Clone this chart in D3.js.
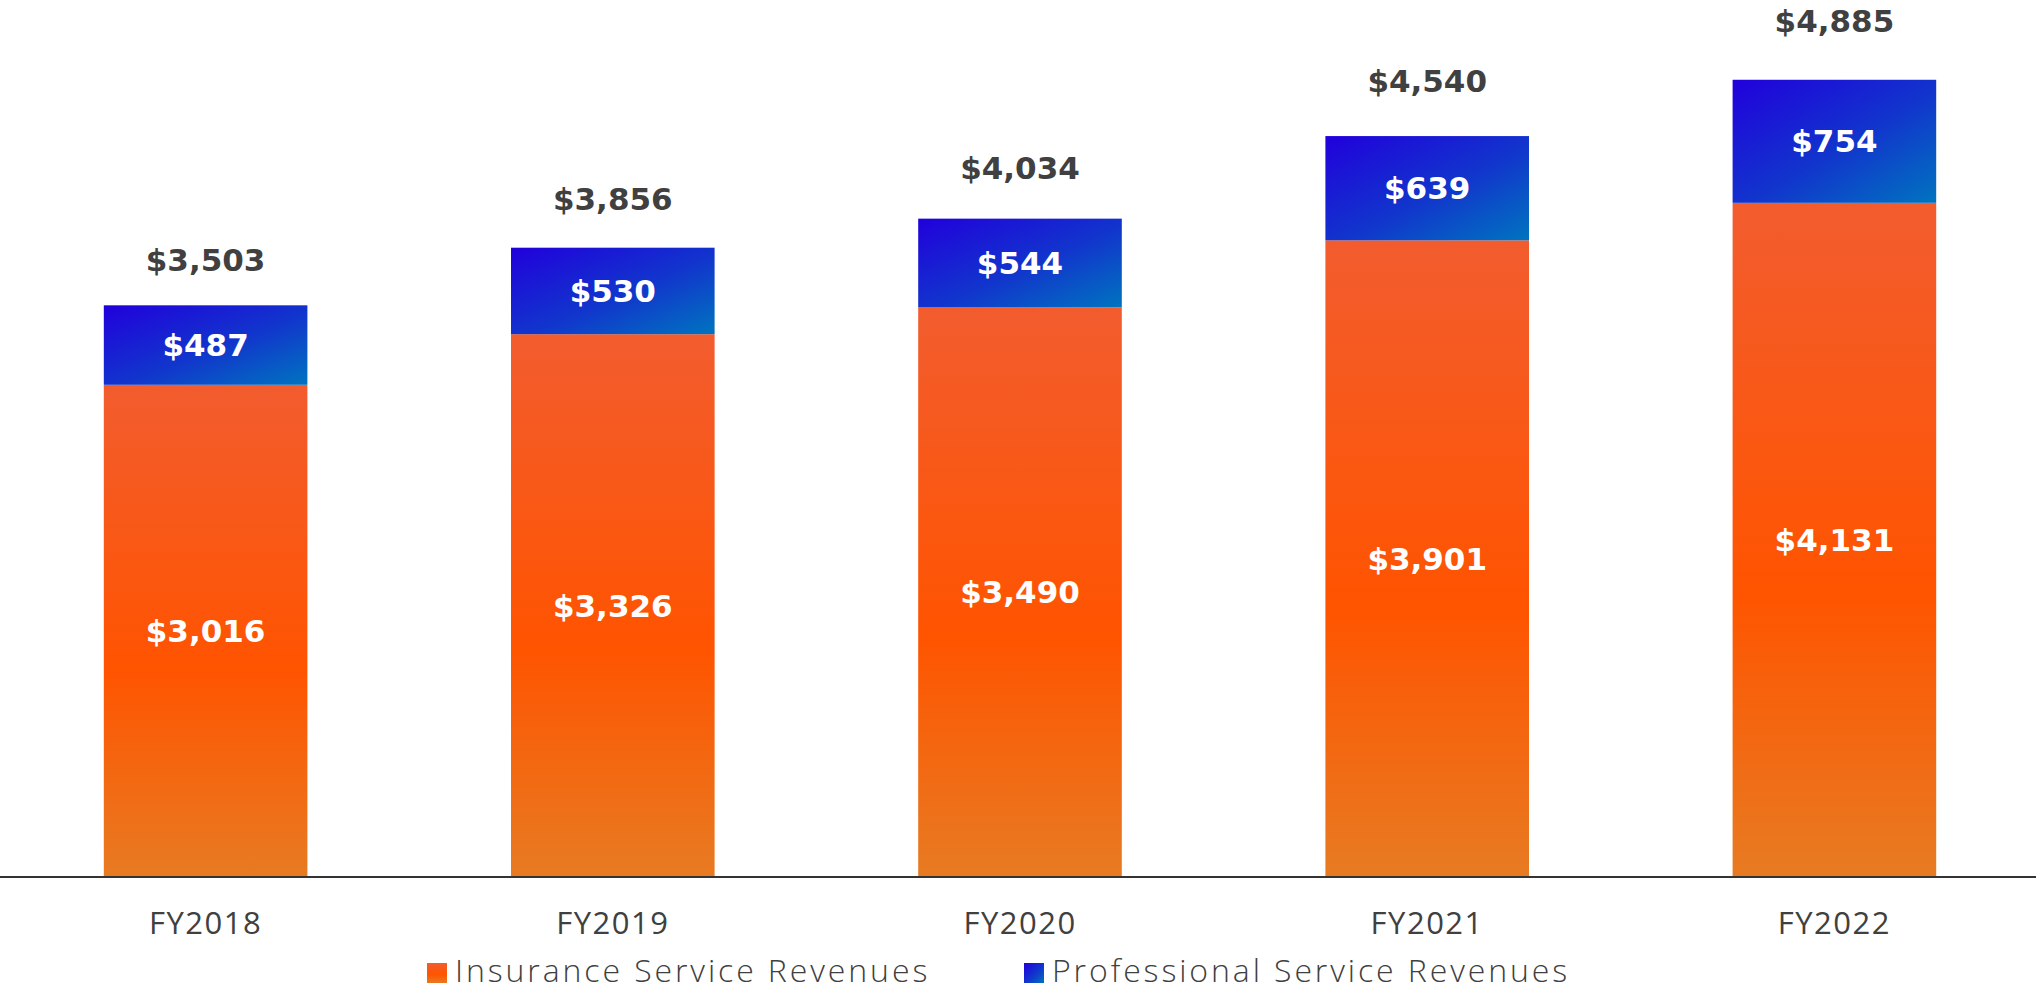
<!DOCTYPE html>
<html>
<head>
<meta charset="utf-8">
<script src="https://cdn.jsdelivr.net/npm/d3@7"></script>
<style>
  body { margin: 0; background: #fff; }
  svg { display: block; }
  .total { font-family: "DejaVu Sans", sans-serif; font-weight: bold; font-size: 31px; fill: #404040; }
  .inner { font-family: "DejaVu Sans", sans-serif; font-weight: bold; font-size: 31px; fill: #fff; }
  .tick-label { font-family: "Open Sans", sans-serif; font-size: 31px; fill: #404040; letter-spacing: 1.5px; }
  .legend-label { font-family: "Open Sans", sans-serif; font-weight: 300; font-size: 32px; fill: #404040; letter-spacing: 2.9px; }
</style>
</head>
<body>
<div class="container"></div>
<script>
const years = ['FY2018', 'FY2019', 'FY2020', 'FY2021', 'FY2022'];
const insurance = [3016, 3326, 3490, 3901, 4131];
const professional = [487, 530, 544, 639, 754];
const totals = [3503, 3856, 4034, 4540, 4885];
const seriesNames = ['Insurance Service Revenues', 'Professional Service Revenues'];

const width = 2036;
const height = 991;
const baseline = 877;

const svg = d3.select('.container')
        .append('svg')
        .attr('width', width)
        .attr('height', height);

const defs = svg.append('defs');

// vertical orange gradient
const orangeGrad = defs.append('linearGradient')
        .attr('id', 'orangeGrad')
        .attr('x1', 0).attr('y1', 0)
        .attr('x2', 0).attr('y2', 1);
orangeGrad.append('stop').attr('offset', '0%').attr('stop-color', '#f25c2e');
orangeGrad.append('stop').attr('offset', '58%').attr('stop-color', '#ff5400');
orangeGrad.append('stop').attr('offset', '100%').attr('stop-color', '#e77b22');

// diagonal blue gradient
const blueGrad = defs.append('linearGradient')
        .attr('id', 'blueGrad')
        .attr('x1', 0).attr('y1', 0)
        .attr('x2', 1).attr('y2', 1);
blueGrad.append('stop').attr('offset', '0%').attr('stop-color', '#2100dc');
blueGrad.append('stop').attr('offset', '55%').attr('stop-color', '#1136cc');
blueGrad.append('stop').attr('offset', '100%').attr('stop-color', '#0074bf');

const x = d3.scaleBand()
        .domain(years)
        .range([2, 2038])
        .paddingInner(0.5)
        .paddingOuter(0.25);

const y = d3.scaleLinear()
        .domain([0, 5000])
        .range([baseline, baseline - 816]);

const data = years.map((yr, i) => ({
    year: yr,
    ins: insurance[i],
    pro: professional[i],
    total: totals[i]
}));

const bars = svg.append('g')
        .selectAll('g')
        .data(data)
        .enter()
        .append('g');

//insurance segment
bars.append('rect')
    .attr('x', d => x(d.year))
    .attr('y', d => y(d.ins))
    .attr('width', x.bandwidth())
    .attr('height', d => y(0) - y(d.ins))
    .attr('fill', 'url(#orangeGrad)');

//professional segment on top
bars.append('rect')
    .attr('x', d => x(d.year))
    .attr('y', d => y(d.ins + d.pro))
    .attr('width', x.bandwidth())
    .attr('height', d => y(d.ins) - y(d.ins + d.pro))
    .attr('fill', 'url(#blueGrad)');

const fmt = d3.format(',');
const cx = d => x(d.year) + x.bandwidth() / 2;

bars.append('text')
    .attr('class', 'inner')
    .attr('x', cx)
    .attr('y', d => (y(0) + y(d.ins)) / 2)
    .attr('text-anchor', 'middle')
    .attr('dominant-baseline', 'central')
    .text(d => '$' + fmt(d.ins));

bars.append('text')
    .attr('class', 'inner')
    .attr('x', cx)
    .attr('y', d => (y(d.ins) + y(d.ins + d.pro)) / 2)
    .attr('text-anchor', 'middle')
    .attr('dominant-baseline', 'central')
    .text(d => '$' + fmt(d.pro));

//total labels sit a bit further above the taller bars
bars.append('text')
    .attr('class', 'total')
    .attr('x', cx)
    .attr('y', d => {
        const top = y(d.ins + d.pro);
        return top - (64 - 0.062 * top);
    })
    .attr('text-anchor', 'middle')
    .attr('dominant-baseline', 'central')
    .text(d => '$' + fmt(d.total));

// x axis
const xAxis = svg.append('g')
        .attr('transform', `translate(0,${baseline})`)
        .call(d3.axisBottom(x).tickSize(0).tickPadding(0));

xAxis.select('.domain')
    .attr('d', `M0,0H${width}`)
    .attr('stroke', '#333')
    .attr('stroke-width', 2);

xAxis.selectAll('text')
    .attr('class', 'tick-label')
    .attr('font-family', null)
    .attr('font-size', null)
    .attr('fill', null)
    .attr('y', 45)
    .attr('dy', null)
    .attr('dominant-baseline', 'central');

// legend
const legendColors = ['url(#orangeGrad)', 'url(#blueGrad)'];
const legendX = [427, 1024];

const legend = svg.append('g')
        .selectAll('g')
        .data(seriesNames)
        .enter()
        .append('g')
        .attr('transform', (d, i) => `translate(${legendX[i]},963)`);

legend.append('rect')
    .attr('width', 20)
    .attr('height', 20)
    .attr('fill', (d, i) => legendColors[i]);

legend.append('text')
    .attr('class', 'legend-label')
    .attr('x', 28)
    .attr('y', 19)
    .text(d => d);
</script>
</body>
</html>
